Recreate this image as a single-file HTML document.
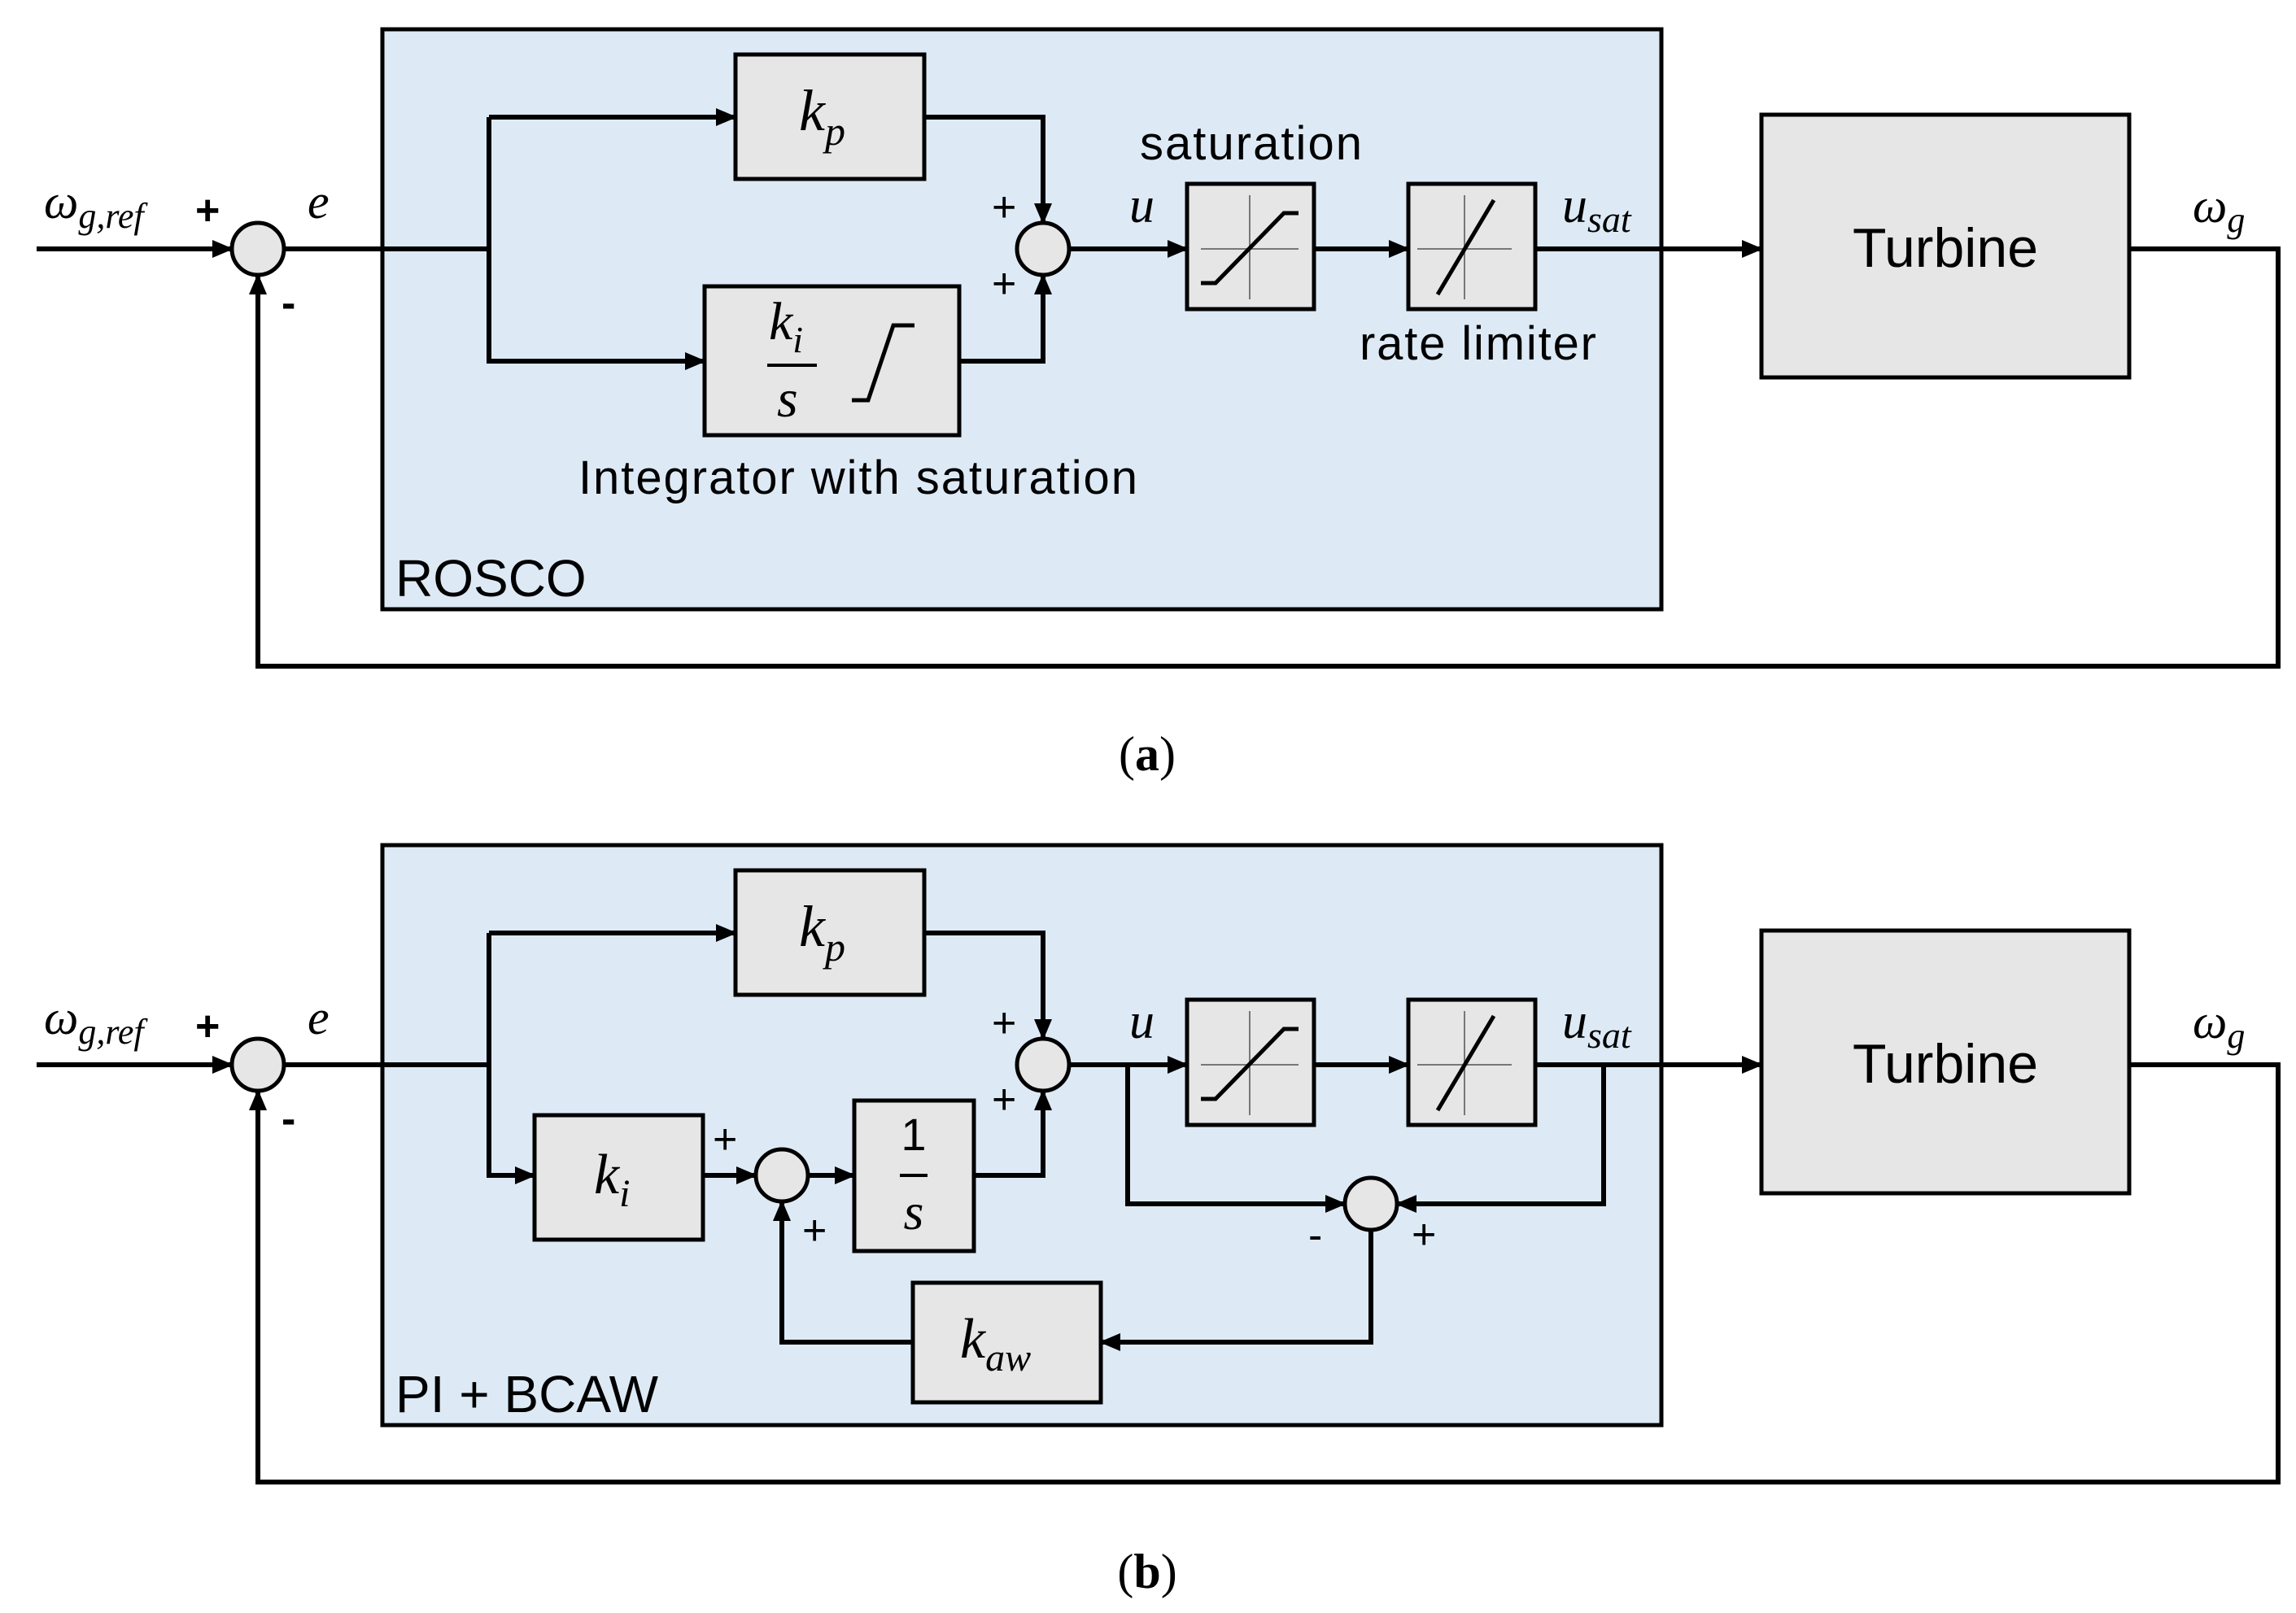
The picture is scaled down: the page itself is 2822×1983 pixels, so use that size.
<!DOCTYPE html>
<html><head><meta charset="utf-8"><style>
html,body{margin:0;padding:0;background:#fff;}
svg{display:block;}
.m{font-family:"Liberation Serif",serif;font-style:italic;}
.s{font-family:"Liberation Sans",sans-serif;}
</style></head><body>
<svg width="2822" height="1983" viewBox="0 0 2822 1983" xmlns="http://www.w3.org/2000/svg">
<defs>
<marker id="ar" markerUnits="userSpaceOnUse" markerWidth="26" markerHeight="22" refX="24" refY="11" orient="auto">
<path d="M0,0 L26,11 L0,22 Z" fill="#000"/>
</marker>
<g id="common">
<rect x="470" y="36" width="1572" height="713" fill="#ddeaf6" stroke="#000" stroke-width="5"/>
<rect x="904" y="67" width="232" height="153" fill="#e6e6e6" stroke="#000" stroke-width="5"/>
<text x="982" y="160" class="m" font-size="72">k<tspan font-size="50" dy="18">p</tspan></text>
<circle cx="317" cy="306" r="32" fill="#e6e6e6" stroke="#000" stroke-width="5"/>
<circle cx="1282" cy="306" r="32" fill="#e6e6e6" stroke="#000" stroke-width="5"/>
<rect x="1459" y="226" width="156" height="154" fill="#e6e6e6" stroke="#000" stroke-width="5"/>
<path d="M1476,306 H1596 M1536,240 V368" stroke="#777" stroke-width="2" fill="none"/>
<path d="M1476,348 H1494 L1578,262 H1596" stroke="#000" stroke-width="5" fill="none"/>
<rect x="1731" y="226" width="156" height="154" fill="#e6e6e6" stroke="#000" stroke-width="5"/>
<path d="M1742,306 H1858 M1800,240 V368" stroke="#777" stroke-width="2" fill="none"/>
<path d="M1767,362 L1836,246" stroke="#000" stroke-width="5" fill="none"/>
<rect x="2165" y="141" width="452" height="323" fill="#e6e6e6" stroke="#000" stroke-width="5"/>
<text x="2391" y="328" class="s" font-size="68" text-anchor="middle">Turbine</text>
<g stroke="#000" stroke-width="6" fill="none">
<path d="M45,306 H285" marker-end="url(#ar)"/>
<path d="M349,306 H601"/>
<path d="M601,144 H904" marker-end="url(#ar)"/>
<path d="M1136,144 H1282 V274" marker-end="url(#ar)"/>
<path d="M1314,306 H1459" marker-end="url(#ar)"/>
<path d="M1615,306 H1731" marker-end="url(#ar)"/>
<path d="M1887,306 H2165" marker-end="url(#ar)"/>
<path d="M2617,306 H2800 V819 H317 V338" marker-end="url(#ar)"/>
</g>
<text x="54" y="268" class="m" font-size="60">ω<tspan font-size="44" dy="12">g,ref</tspan></text>
<text x="240" y="276" class="s" font-size="52" font-weight="bold">+</text>
<text x="346" y="390" class="s" font-size="52" font-weight="bold">-</text>
<text x="378" y="268" class="m" font-size="60">e</text>
<text x="1219" y="272" class="s" font-size="52">+</text>
<text x="1388" y="273" class="m" font-size="62">u</text>
<text x="1920" y="273" class="m" font-size="62">u<tspan font-size="46" dy="12">sat</tspan></text>
<text x="2695" y="273" class="m" font-size="60">ω<tspan font-size="44" dy="12">g</tspan></text>
</g>
</defs>

<use href="#common"/>
<rect x="866" y="352" width="313" height="183" fill="#e6e6e6" stroke="#000" stroke-width="5"/>
<text x="945" y="417" class="m" font-size="66">k<tspan font-size="46" dy="16">i</tspan></text>
<path d="M943,449 H1004" stroke="#000" stroke-width="4"/>
<text x="955" y="512" class="m" font-size="66">s</text>
<path d="M1047,492 H1067 L1098,400 H1124" stroke="#000" stroke-width="5" fill="none"/>
<g stroke="#000" stroke-width="6" fill="none">
<path d="M601,144 V444 H866" marker-end="url(#ar)"/>
<path d="M1179,444 H1282 V338" marker-end="url(#ar)"/>
</g>
<text x="1219" y="366" class="s" font-size="52">+</text>
<text x="1401" y="196" class="s" font-size="58" textLength="273">saturation</text>
<text x="1671" y="442" class="s" font-size="58" textLength="291">rate limiter</text>
<text x="711" y="607" class="s" font-size="58" textLength="687">Integrator with saturation</text>
<text x="486" y="733" class="s" font-size="64">ROSCO</text>
<text x="1410" y="947" font-family="'Liberation Serif',serif" font-size="60" text-anchor="middle">(<tspan font-weight="bold">a</tspan>)</text>

<use href="#common" transform="translate(0,1003)"/>
<rect x="657" y="1371" width="207" height="153" fill="#e6e6e6" stroke="#000" stroke-width="5"/>
<text x="730" y="1467" class="m" font-size="70">k<tspan font-size="48" dy="16">i</tspan></text>
<circle cx="961" cy="1445" r="32" fill="#e6e6e6" stroke="#000" stroke-width="5"/>
<rect x="1050" y="1353" width="147" height="185" fill="#e6e6e6" stroke="#000" stroke-width="5"/>
<text x="1123" y="1414" class="s" font-size="56" text-anchor="middle">1</text>
<path d="M1106,1445 H1140" stroke="#000" stroke-width="4"/>
<text x="1123" y="1511" class="m" font-size="64" text-anchor="middle">s</text>
<circle cx="1685" cy="1480" r="32" fill="#e6e6e6" stroke="#000" stroke-width="5"/>
<rect x="1122" y="1577" width="231" height="147" fill="#e6e6e6" stroke="#000" stroke-width="5"/>
<text x="1180" y="1669" class="m" font-size="70">k<tspan font-size="48" dy="16">aw</tspan></text>
<g stroke="#000" stroke-width="6" fill="none">
<path d="M601,1147 V1445 H657" marker-end="url(#ar)"/>
<path d="M864,1445 H929" marker-end="url(#ar)"/>
<path d="M993,1445 H1050" marker-end="url(#ar)"/>
<path d="M1197,1445 H1282 V1341" marker-end="url(#ar)"/>
<path d="M1386,1309 V1480 H1653" marker-end="url(#ar)"/>
<path d="M1971,1309 V1480 H1717" marker-end="url(#ar)"/>
<path d="M1685,1512 V1650 H1353" marker-end="url(#ar)"/>
<path d="M1122,1650 H961 V1477" marker-end="url(#ar)"/>
</g>
<text x="1219" y="1369" class="s" font-size="52">+</text>
<text x="876" y="1418" class="s" font-size="52">+</text>
<text x="986" y="1530" class="s" font-size="52">+</text>
<text x="1608" y="1536" class="s" font-size="52">-</text>
<text x="1735" y="1535" class="s" font-size="52">+</text>
<text x="486" y="1736" class="s" font-size="64">PI + BCAW</text>
<text x="1410" y="1952" font-family="'Liberation Serif',serif" font-size="60" text-anchor="middle">(<tspan font-weight="bold">b</tspan>)</text>
</svg>
</body></html>
